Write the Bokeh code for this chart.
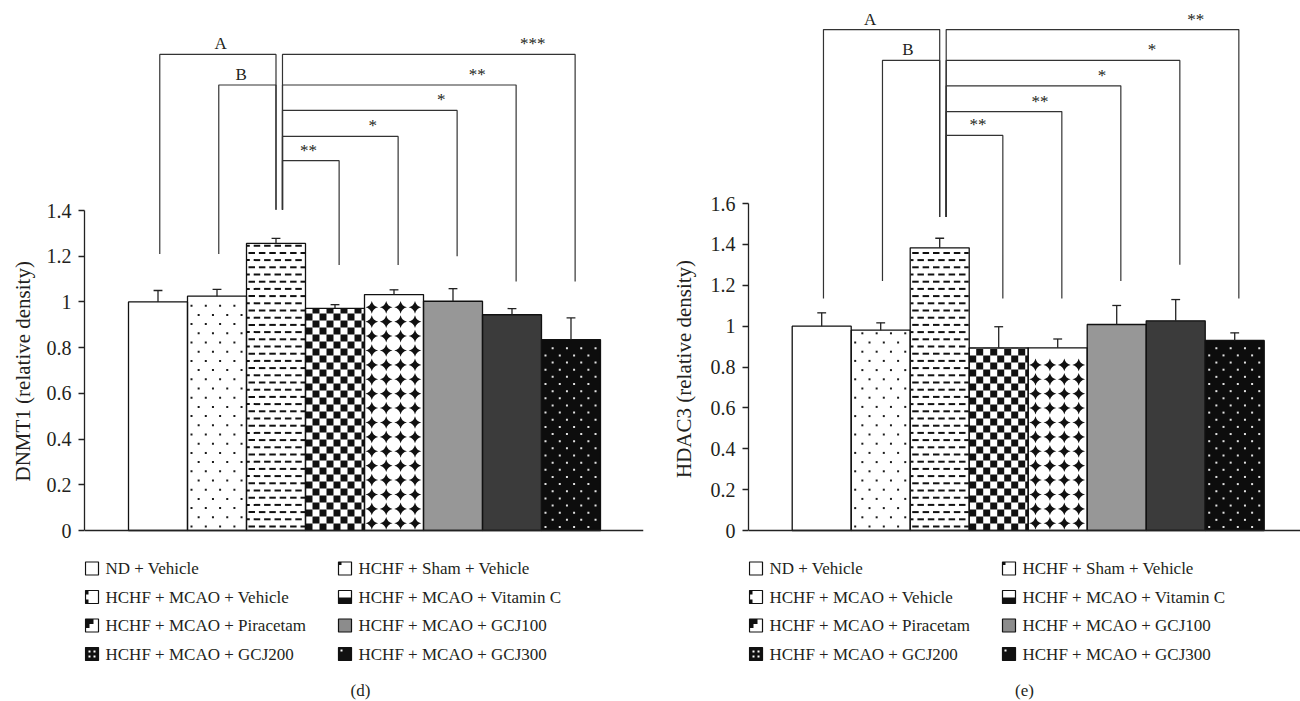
import math
from bokeh.plotting import figure
from bokeh.layouts import row
from bokeh.models import FixedTicker, CustomJSTickFormatter, Range1d, Span, Title
from bokeh.core.properties import value
from bokeh.embed import file_html
from bokeh.resources import INLINE

# ---------------- data ----------------
groups = ["ND + Vehicle", "HCHF + Sham + Vehicle", "HCHF + MCAO + Vehicle",
          "HCHF + MCAO + Vitamin C", "HCHF + MCAO + Piracetam", "HCHF + MCAO + GCJ100",
          "HCHF + MCAO + GCJ200", "HCHF + MCAO + GCJ300"]

dnmt1_mean = [1.000, 1.025, 1.256, 0.972, 1.032, 1.003, 0.944, 0.835]
dnmt1_err = [0.050, 0.030, 0.022, 0.016, 0.021, 0.055, 0.027, 0.095]
dnmt1_ticks = [0, 0.2, 0.4, 0.6, 0.8, 1.0, 1.2, 1.4]

hdac3_mean = [1.000, 0.980, 1.383, 0.894, 0.894, 1.008, 1.026, 0.930]
hdac3_err = [0.065, 0.036, 0.047, 0.103, 0.043, 0.093, 0.104, 0.037]
hdac3_ticks = [0, 0.2, 0.4, 0.6, 0.8, 1.0, 1.2, 1.4, 1.6]

# significance brackets: group index (1-based) pairs, labels, bracket levels, leg ends,
# and label centres (in group units)
dnmt1_sig_from = [1, 2, 3, 3, 3, 3, 3]
dnmt1_sig_to = [3, 3, 4, 5, 6, 7, 8]
dnmt1_sig_label = ["A", "B", "**", "*", "*", "**", "***"]
dnmt1_sig_level = [2.083, 1.949, 1.618, 1.724, 1.838, 1.949, 2.083]
dnmt1_sig_low_from = [1.21, 1.21, 1.403, 1.403, 1.403, 1.403, 1.403]
dnmt1_sig_low_to = [1.403, 1.403, 1.162, 1.162, 1.20, 1.089, 1.089]
dnmt1_sig_label_x = [2.06, 2.41, 3.55, 4.64, 5.80, 6.41, 7.35]

hdac3_sig_from = [1, 2, 3, 3, 3, 3, 3]
hdac3_sig_to = [3, 3, 4, 5, 6, 7, 8]
hdac3_sig_label = ["A", "B", "**", "**", "*", "*", "**"]
hdac3_sig_level = [2.451, 2.300, 1.933, 2.050, 2.176, 2.300, 2.451]
hdac3_sig_low_from = [1.135, 1.221, 1.534, 1.534, 1.534, 1.534, 1.534]
hdac3_sig_low_to = [1.534, 1.534, 1.135, 1.135, 1.221, 1.30, 1.135]
hdac3_sig_label_x = [1.82, 2.46, 3.65, 4.70, 5.75, 6.60, 7.34]

# ---------------- styles ----------------
FONT = "Liberation Serif"
INK = "#231f20"
FIG_H = 701
TOP_PX = 10          # frame top
BASE_PX = 530        # pixel row of y = 0
bar_fill = ["white", "white", "white", "white", "white", "#979797", "#3b3b3b", "#0d0d0d"]
icon_fill = ["white", "white", "white", "white", "white", "#8c8c8c", "#111111", "#111111"]
# small decorations inside the legend icons (x0, y0, x1, y1 in px inside a 13 px box, colour)
icon_marks = {
    1: [(0, 0, 3, 3, "#111111")],
    2: [(0, 0, 3, 4, "#111111"), (0, 9, 3, 13, "#111111")],
    3: [(0, 7, 13, 13, "#111111")],
    4: [(0, 0, 8, 5, "#111111"), (0, 0, 4, 9, "#111111")],
    6: [(3, 3, 5, 5, "white"), (8, 3, 10, 5, "white"), (3, 8, 5, 10, "white"), (8, 8, 10, 10, "white")],
    7: [(2, 2, 4, 4, "white")],
}
HALF_LABEL_PX = 111   # half the drawn length of the y-axis title


def make_panel(means, errs, ticks, ylabel, ppu, x_start, x_end, frame_left, frame_w,
               s_from, s_to, s_label, s_level, s_low_from, s_low_to, s_label_x,
               caption, b_right, label_gap):
    y_end = (BASE_PX - TOP_PX) / ppu
    y_start = -(FIG_H - BASE_PX) / ppu
    p = figure(width=650, height=FIG_H, output_backend="svg", toolbar_location=None,
               x_range=Range1d(x_start, x_end), y_range=Range1d(y_start, y_end),
               min_border_left=frame_left, min_border_right=b_right,
               min_border_top=TOP_PX, min_border_bottom=0)
    p.outline_line_color = None
    p.grid.visible = False
    p.xaxis.visible = False
    p.background_fill_color = "white"

    dpx = (x_end - x_start) / frame_w    # data per pixel (x)
    dpy = 1.0 / ppu                      # data per pixel (y)

    def X(px_rel):
        return x_start + px_rel * dpx

    def Y(py_abs):
        return (BASE_PX - py_abs) * dpy

    # y axis
    p.yaxis.ticker = FixedTicker(ticks=ticks)
    p.yaxis.bounds = (0, ticks[-1])
    p.yaxis.formatter = CustomJSTickFormatter(code="return String(Math.round(tick*10)/10);")
    p.yaxis.major_tick_out = 6
    p.yaxis.major_tick_in = 0
    p.yaxis.minor_tick_line_color = None
    p.yaxis.axis_line_color = "#222222"
    p.yaxis.axis_line_width = 1.3
    p.yaxis.major_tick_line_color = "#222222"
    p.yaxis.major_tick_line_width = 1.3
    p.yaxis.major_label_standoff = 7
    p.yaxis.major_label_text_font = FONT
    p.yaxis.major_label_text_font_size = "20px"
    p.yaxis.major_label_text_color = INK

    # y-axis title, centred on the 0..top part of the axis
    axis_mid_px = BASE_PX - ticks[-1] / 2 * ppu
    tkw = dict(text=ylabel, align="left", offset=FIG_H - (axis_mid_px + HALF_LABEL_PX),
               text_font=FONT, text_font_size="21px", text_font_style="normal",
               text_color=INK)
    if "standoff" in Title.properties():
        tkw["standoff"] = Title().standoff + label_gap
    p.add_layout(Title(**tkw), "left")

    n = len(groups)
    xs = [i + 1 for i in range(n)]

    # bar fills
    p.vbar(x=xs, top=means, bottom=0, width=1.0, fill_color=bar_fill, line_color=None)

    # bar textures, laid out in pixel steps inside each bar
    q_l, q_r, q_b, q_t = [], [], [], []
    bd_x, bd_y, wd_x, wd_y, st_x, st_y = [], [], [], [], [], []
    W = 1.0 / dpx
    for i in range(n):
        xl = xs[i] - 0.5
        h = means[i] * ppu
        if i == 1:      # sparse dots
            r, y = 0, 4.0
            while y < h - 2:
                x = 4.0 + (r % 2) * 7.15
                while x < W - 2:
                    bd_x.append(xl + x * dpx); bd_y.append(y * dpy); x += 14.3
                y += 9.2; r += 1
        elif i == 2:    # horizontal dashes
            r, y = 0, 3.0
            while y + 2 < h - 1:
                x = 2.0 - (r % 2) * 5.2
                while x < W:
                    a, b = max(x, 0.5), min(x + 6.5, W - 0.5)
                    if b > a:
                        q_l.append(xl + a * dpx); q_r.append(xl + b * dpx)
                        q_b.append(y * dpy); q_t.append((y + 2) * dpy)
                    x += 10.4
                y += 7.2; r += 1
        elif i == 3:    # checkerboard
            iy = 0
            while iy * 7 < h:
                ix = 0
                while ix * 7 < W:
                    if (ix + iy) % 2 == 0:
                        q_l.append(xl + ix * 7 * dpx); q_r.append(xl + min(ix * 7 + 7, W) * dpx)
                        q_b.append(iy * 7 * dpy); q_t.append(min(iy * 7 + 7, h) * dpy)
                    ix += 1
                iy += 1
        elif i == 4:    # four-point stars
            y = 7.2
            while y < h - 5:
                for k in range(4):
                    st_x.append(xl + (7.3 + 14.4 * k) * dpx); st_y.append(y * dpy)
                y += 14.4
        elif i == 7:    # white dots on black
            r, y = 0, 3.5
            while y < h - 2:
                x = 4.0 + (r % 2) * 7.15
                while x < W - 2:
                    wd_x.append(xl + x * dpx); wd_y.append(y * dpy); x += 14.3
                y += 7.15; r += 1
    p.quad(left=q_l, right=q_r, bottom=q_b, top=q_t, fill_color="#111111", line_color=None)
    p.scatter(x=bd_x, y=bd_y, marker="square", size=2, fill_color="#1a1a1a", line_color=None)
    p.scatter(x=wd_x, y=wd_y, marker="square", size=2, fill_color="#e2e2e2", line_color=None)
    p.scatter(x=st_x, y=st_y, marker="square_pin", size=9, angle=math.pi / 4,
              fill_color="#111111", line_color=None)

    # bar outlines on top
    p.vbar(x=xs, top=means, bottom=0, width=1.0, fill_color=None,
           line_color="#111111", line_width=1.3)

    # baseline (x axis line)
    p.add_layout(Span(location=0, dimension="width", line_color="#222222", line_width=1.3))

    # error bars (upper only)
    ups = [m + e for m, e in zip(means, errs)]
    p.segment(x0=xs, y0=means, x1=xs, y1=ups, line_color="#222222", line_width=1.3)
    p.segment(x0=[x - 0.075 for x in xs], y0=ups, x1=[x + 0.075 for x in xs], y1=ups,
              line_color="#222222", line_width=1.3)

    # significance brackets
    bx, by = [], []
    for f, t, lev, lo_f, lo_t in zip(s_from, s_to, s_level, s_low_from, s_low_to):
        x0 = f + (0.11 if f == 3 else 0.03)
        x1 = t + (0.0 if t == 3 else 0.07)
        bx.append([x0, x0, x1, x1])
        by.append([lo_f, lev, lev, lo_t])
    p.multi_line(xs=bx, ys=by, line_color="#333333", line_width=1.2)
    p.text(x=s_label_x, y=s_level, text=s_label, text_align="center", text_baseline="bottom",
           y_offset=-1, text_font=value(FONT), text_font_size="17px", text_color=INK)

    # legend (two columns, row-major)
    il, ir, ib, it, ic = [], [], [], [], []
    ml, mr, mb, mt, mc = [], [], [], [], []
    tx, ty = [], []
    for i, g in enumerate(groups):
        rr, cc = divmod(i, 2)
        cy = 568 + 28.5 * rr
        ix = 1 + 253 * cc
        il.append(X(ix)); ir.append(X(ix + 13)); it.append(Y(cy - 6.5)); ib.append(Y(cy + 6.5))
        ic.append(icon_fill[i])
        for (a, b, c2, d, col) in icon_marks.get(i, []):
            ml.append(X(ix + a)); mr.append(X(ix + c2))
            mt.append(Y(cy - 6.5 + b)); mb.append(Y(cy - 6.5 + d)); mc.append(col)
        tx.append(X(ix + 20)); ty.append(Y(cy))
    p.quad(left=il, right=ir, top=it, bottom=ib, fill_color=ic, line_color=None)
    p.quad(left=ml, right=mr, top=mt, bottom=mb, fill_color=mc, line_color=None)
    p.quad(left=il, right=ir, top=it, bottom=ib, fill_color=None, line_color="#111111",
           line_width=1.2)
    p.text(x=tx, y=ty, text=groups, text_align="left", text_baseline="middle",
           text_font=value(FONT), text_font_size="17px", text_color=INK)
    p.text(x=[X(276)], y=[Y(690)], text=[caption], text_align="center",
           text_baseline="middle", text_font=value(FONT), text_font_size="17px",
           text_color=INK)
    return p


p1 = make_panel(dnmt1_mean, dnmt1_err, dnmt1_ticks, "DNMT1 (relative density)",
                228.57, -0.2458, 9.229, 84, 559,
                dnmt1_sig_from, dnmt1_sig_to, dnmt1_sig_label, dnmt1_sig_level,
                dnmt1_sig_low_from, dnmt1_sig_low_to, dnmt1_sig_label_x, "(d)", 7, 7)
p2 = make_panel(hdac3_mean, hdac3_err, hdac3_ticks, "HDAC3 (relative density)",
                204.375, -0.2407, 9.115, 98, 552,
                hdac3_sig_from, hdac3_sig_to, hdac3_sig_label, hdac3_sig_level,
                hdac3_sig_low_from, hdac3_sig_low_to, hdac3_sig_label_x, "(e)", 0, 14)

layout = row(p1, p2)
open("out.html", "w").write(file_html(layout, INLINE))
